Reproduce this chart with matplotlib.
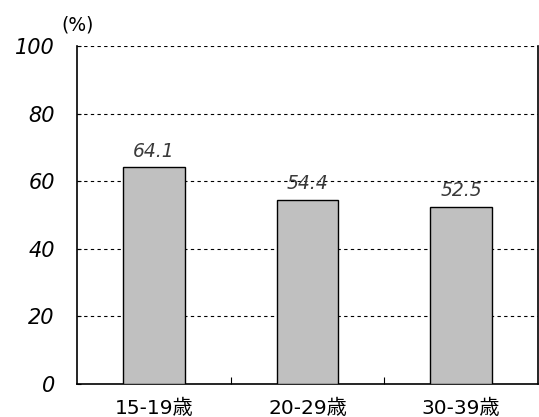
import matplotlib
matplotlib.use("Agg")
import matplotlib.pyplot as plt

categories = ["15-19歳", "20-29歳", "30-39歳"]
values = [64.1, 54.4, 52.5]
yticks = [0, 20, 40, 60, 80, 100]

plt.rcParams['font.family'] = ['DejaVu Sans', 'Noto Sans CJK JP']

fig = plt.figure(figsize=(5.39, 4.17), dpi=100)
ax = fig.add_axes([77 / 539, 1 - 384 / 417, 461 / 539, 338 / 417])

x = list(range(len(categories)))
ax.bar(x, values, width=0.4, color="#c0c0c0", edgecolor="black", linewidth=1.0, zorder=3)

# value labels above the bars
for xi, v in zip(x, values):
    ax.text(xi, v + 2.0, f"{v:.1f}", ha="center", va="bottom", fontsize=13.5,
            style="italic", color="#3a3a3a", zorder=4)

ax.set_xlim(-0.5, len(categories) - 0.5)
ax.set_ylim(0, 100)
ax.set_yticks(yticks)
ax.set_yticklabels([str(t) for t in yticks], fontsize=15, style="italic")
ax.tick_params(axis="y", direction="in", length=3, pad=16, width=0.8)

# category boundaries marked on the x axis, names centred under the bars
ax.set_xticks([0.5, 1.5])
ax.set_xticklabels([])
ax.tick_params(axis="x", direction="in", length=5, width=0.8)
ax.set_xticks(x, minor=True)
ax.set_xticklabels(categories, minor=True, fontsize=14.5)
ax.tick_params(axis="x", which="minor", length=0, pad=11)

for t in yticks[1:]:
    ax.axhline(t, color="black", linestyle=(0, (3, 3)), linewidth=0.8, zorder=1)

ax.spines["top"].set_visible(False)
for s in ("left", "bottom", "right"):
    ax.spines[s].set_linewidth(1.2)
    ax.spines[s].set_color("black")

fig.text(78 / 539, 1 - 25 / 417, "(%)", fontsize=13.5, ha="center", va="center")

fig.savefig("out.png", dpi=100)
